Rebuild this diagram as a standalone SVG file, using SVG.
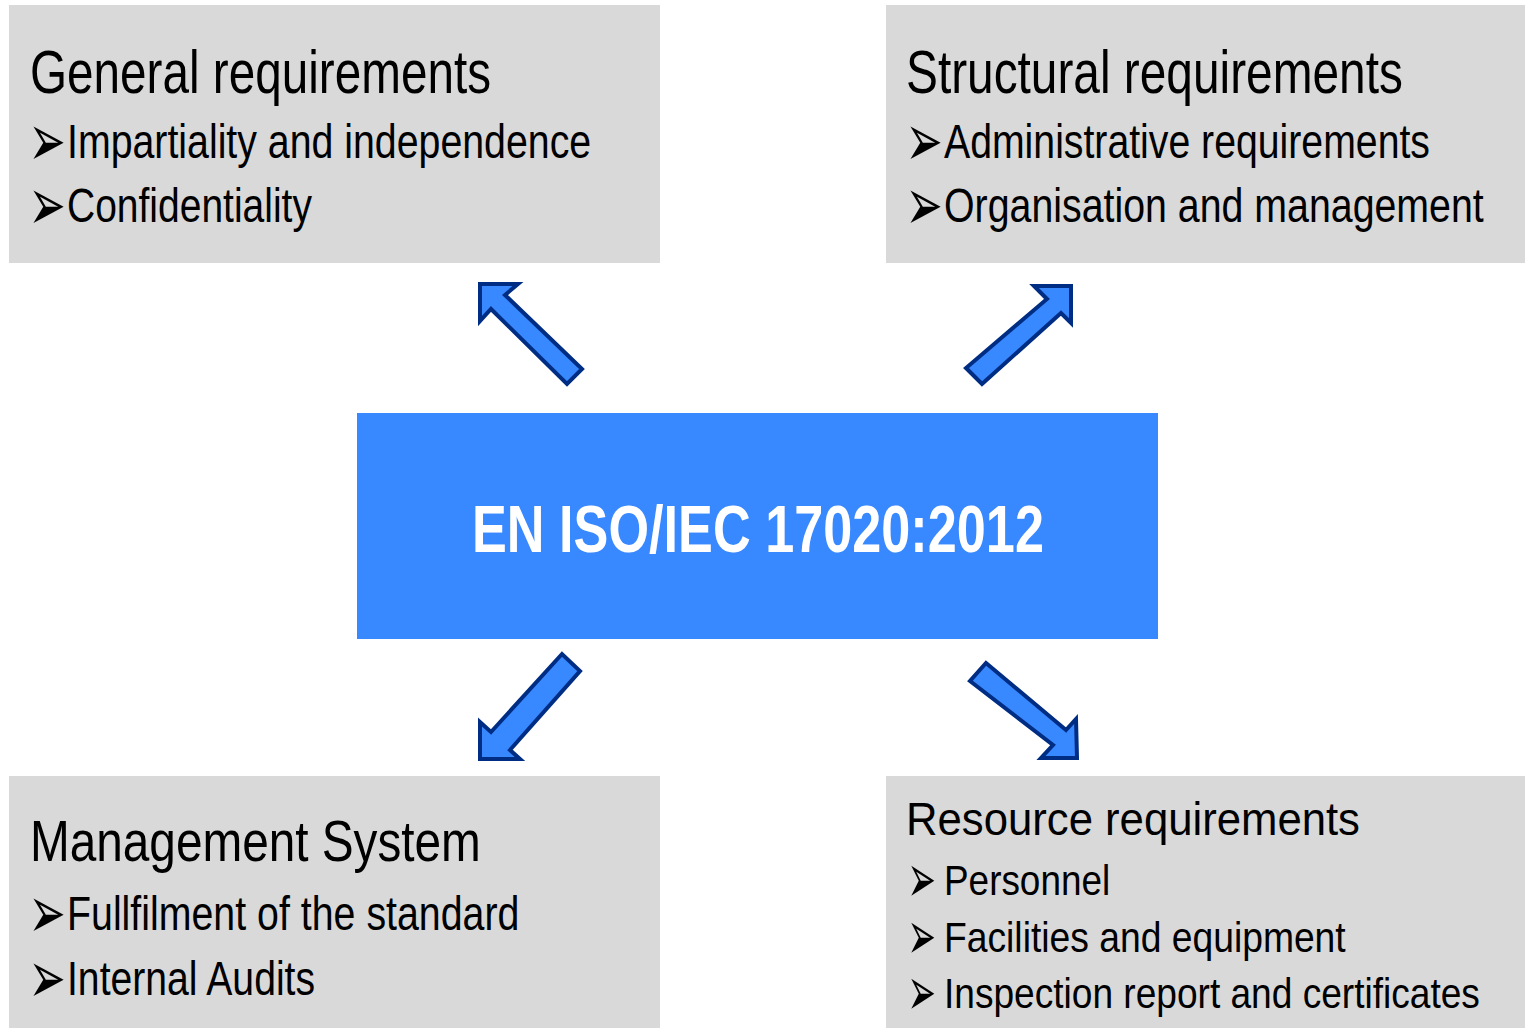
<svg xmlns="http://www.w3.org/2000/svg" width="1525" height="1028" viewBox="0 0 1525 1028">
<style>
.box{fill:#d9d9d9}
.t{font-family:"Liberation Sans",Arial,sans-serif;fill:#000}
.b{font-family:"DejaVu Sans",sans-serif;fill:#000}
.arr{fill:#3888ff;stroke:#002d84;stroke-width:4;stroke-linejoin:miter}
.ctr{fill:#3888ff}
.ct{font-family:"Liberation Sans",Arial,sans-serif;font-weight:bold;fill:#fff}
</style>
<rect width="1525" height="1028" fill="#fff"/>
<g id="general">
<rect class="box" x="9" y="5" width="651" height="258"/>
<text class="t" transform="translate(30,93) scale(0.78,1)" font-size="62" textLength="591" lengthAdjust="spacingAndGlyphs">General requirements</text>
<text class="b" transform="translate(28.6,165.7) scale(0.857,1.43)" font-size="52">➢</text>
<text class="t" transform="translate(67,158) scale(0.78,1)" font-size="49" textLength="672" lengthAdjust="spacingAndGlyphs">Impartiality and independence</text>
<text class="b" transform="translate(28.6,229.7) scale(0.857,1.43)" font-size="52">➢</text>
<text class="t" transform="translate(67,222) scale(0.78,1)" font-size="49" textLength="314" lengthAdjust="spacingAndGlyphs">Confidentiality</text>
</g>
<g id="structural">
<rect class="box" x="886" y="5" width="639" height="258"/>
<text class="t" transform="translate(906,93) scale(0.78,1)" font-size="62" textLength="637" lengthAdjust="spacingAndGlyphs">Structural requirements</text>
<text class="b" transform="translate(905.6,165.7) scale(0.857,1.43)" font-size="52">➢</text>
<text class="t" transform="translate(944,158) scale(0.78,1)" font-size="49" textLength="623" lengthAdjust="spacingAndGlyphs">Administrative requirements</text>
<text class="b" transform="translate(905.6,229.7) scale(0.857,1.43)" font-size="52">➢</text>
<text class="t" transform="translate(944,222) scale(0.78,1)" font-size="49" textLength="692" lengthAdjust="spacingAndGlyphs">Organisation and management</text>
</g>
<g id="management">
<rect class="box" x="9" y="776" width="651" height="252"/>
<text class="t" transform="translate(30,861) scale(0.78,1)" font-size="58" textLength="578" lengthAdjust="spacingAndGlyphs">Management System</text>
<text class="b" transform="translate(28.6,937.7) scale(0.857,1.43)" font-size="52">➢</text>
<text class="t" transform="translate(67,930) scale(0.78,1)" font-size="49" textLength="580" lengthAdjust="spacingAndGlyphs">Fullfilment of the standard</text>
<text class="b" transform="translate(28.6,1002.7) scale(0.857,1.43)" font-size="52">➢</text>
<text class="t" transform="translate(67,995) scale(0.78,1)" font-size="49" textLength="318" lengthAdjust="spacingAndGlyphs">Internal Audits</text>
</g>
<g id="resource">
<rect class="box" x="886" y="776" width="639" height="252"/>
<text class="t" transform="translate(906,835) scale(0.78,1)" font-size="47" textLength="582" lengthAdjust="spacingAndGlyphs">Resource requirements</text>
<text class="b" transform="translate(907.4,902.1) scale(0.79,1.58)" font-size="43">➢</text>
<text class="t" transform="translate(944,895) scale(0.78,1)" font-size="43" textLength="213" lengthAdjust="spacingAndGlyphs">Personnel</text>
<text class="b" transform="translate(907.4,959.1) scale(0.79,1.58)" font-size="43">➢</text>
<text class="t" transform="translate(944,952) scale(0.78,1)" font-size="43" textLength="515" lengthAdjust="spacingAndGlyphs">Facilities and equipment</text>
<text class="b" transform="translate(907.4,1015.1) scale(0.79,1.58)" font-size="43">➢</text>
<text class="t" transform="translate(944,1008) scale(0.78,1)" font-size="43" textLength="687" lengthAdjust="spacingAndGlyphs">Inspection report and certificates</text>
</g>
<g id="center">
<rect class="ctr" x="357" y="413" width="801" height="226"/>
<text class="ct" transform="translate(472,552) scale(0.79,1)" font-size="66" textLength="724" lengthAdjust="spacingAndGlyphs">EN ISO/IEC 17020:2012</text>
</g>
<g id="connectors">
<polygon class="arr" points="480,284 480,321 491,309 567,384 582,369 505,295 518,284"/>
<polygon class="arr" points="1071,286 1034,286 1047,299 966,368 982,384 1061,313 1071,323"/>
<polygon class="arr" points="480,759 480,722 491,732 562,654 580,671 510,750 520,759"/>
<polygon class="arr" points="1077,758 1076,719 1066,730 986,663 970,681 1053,745 1041,758"/>
</g>
</svg>
